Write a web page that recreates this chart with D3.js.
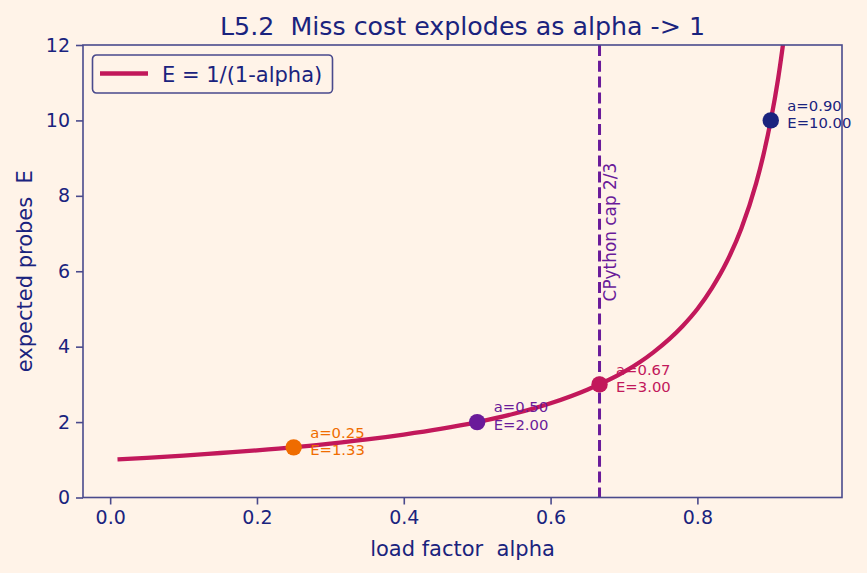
<!DOCTYPE html>
<html>
<head>
<meta charset="utf-8">
<script src="https://cdn.jsdelivr.net/npm/d3@7"></script>
<style>
  html, body { margin: 0; padding: 0; background: #fff3e8; }
  svg { display: block; font-family: "DejaVu Sans", sans-serif; }
  svg text { white-space: pre; }
</style>
</head>
<body>
<div id="chart"></div>
<script>
// curve E = 1/(1-alpha)
const alphaVals = [0.01, 0.05, 0.10, 0.15, 0.20, 0.25, 0.30, 0.35, 0.40, 0.45, 0.50, 0.55, 0.60,
                   0.65, 0.70, 0.74, 0.78, 0.80, 0.82, 0.84, 0.86, 0.88, 0.89, 0.90, 0.91, 0.92];
const expectedVals = [1.01, 1.05, 1.11, 1.18, 1.25, 1.33, 1.43, 1.54, 1.67, 1.82, 2.00, 2.22, 2.50,
                      2.86, 3.33, 3.85, 4.55, 5.00, 5.56, 6.25, 7.14, 8.33, 9.09, 10.00, 11.11, 12.50];

// marked points
const markAlpha = [0.25, 0.50, 2 / 3, 0.90];
const markE = [1.33, 2.00, 3.00, 10.00];
const markLabelA = ["a=0.25", "a=0.50", "a=0.67", "a=0.90"];
const markLabelE = ["E=1.33", "E=2.00", "E=3.00", "E=10.00"];
const markColors = ["#ef6c00", "#6a1b9a", "#c2185b", "#1a237e"];

const capAlpha = 2 / 3;
const xTicks = [0.0, 0.2, 0.4, 0.6, 0.8];
const yTicks = [0, 2, 4, 6, 8, 10, 12];

const W = 867, H = 573;
const margin = { top: 45, right: 25, bottom: 75.5, left: 83 };
const width = W - margin.left - margin.right;
const height = H - margin.top - margin.bottom;

const navy = "#1a237e";
const spine = "#4a4a8c";

const svgRoot = d3.select("#chart").append("svg")
    .attr("width", W).attr("height", H);
svgRoot.append("rect").attr("width", W).attr("height", H).attr("fill", "#fff3e8");

const svg = svgRoot.append("g")
    .attr("transform", `translate(${margin.left},${margin.top})`);

const x = d3.scaleLinear().domain([-0.037, 0.997]).range([0, width]);
const y = d3.scaleLinear().domain([0, 12]).range([height, 0]);

svg.append("defs").append("clipPath").attr("id", "plotclip")
    .append("rect").attr("width", width).attr("height", height);

// curve
const curveData = alphaVals.map((a, i) => ({ a: a, e: expectedVals[i] }));
svg.append("path")
    .datum(curveData)
    .attr("clip-path", "url(#plotclip)")
    .attr("fill", "none")
    .attr("stroke", "#c2185b")
    .attr("stroke-width", 4.3)
    .attr("stroke-linejoin", "round")
    .attr("d", d3.line().x(d => x(d.a)).y(d => y(d.e)).curve(d3.curveMonotoneX));

// CPython cap line
svg.append("line")
    .attr("x1", x(capAlpha)).attr("x2", x(capAlpha))
    .attr("y1", 0).attr("y2", height)
    .attr("stroke", "#6a1b9a")
    .attr("stroke-width", 3)
    .attr("stroke-dasharray", "11,4.8");

svg.append("text")
    .attr("transform", `translate(${x(capAlpha) + 16.5},${y(5.2)}) rotate(-90)`)
    .attr("fill", "#6a1b9a")
    .style("font-size", "16.9px")
    .text("CPython cap 2/3");

// marked points + labels
markAlpha.forEach((a, i) => {
    const px = x(a), py = y(markE[i]);
    svg.append("circle")
        .attr("cx", px).attr("cy", py).attr("r", 8.2)
        .attr("fill", markColors[i]);
    const t = svg.append("text")
        .attr("fill", markColors[i])
        .style("font-size", "14.8px");
    t.append("tspan").attr("x", px + 16.5).attr("y", py - 9.8).text(markLabelA[i]);
    t.append("tspan").attr("x", px + 16.5).attr("y", py + 8).text(markLabelE[i]);
});

// axes
const xAxis = svg.append("g")
    .attr("transform", `translate(0,${height})`)
    .call(d3.axisBottom(x).tickValues(xTicks).tickFormat(d3.format(".1f")).tickSizeOuter(0).tickSize(7).tickPadding(6));
const yAxis = svg.append("g")
    .call(d3.axisLeft(y).tickValues(yTicks).tickFormat(d3.format("d")).tickSizeOuter(0).tickSize(7).tickPadding(6));

[xAxis, yAxis].forEach(g => {
    g.select(".domain").remove();
    g.selectAll(".tick line").attr("stroke", spine).attr("stroke-width", 1.6);
    g.selectAll(".tick text").attr("fill", navy).style("font-size", "19px")
        .style("font-family", "DejaVu Sans, sans-serif");
});

// frame
svg.append("rect")
    .attr("width", width).attr("height", height)
    .attr("fill", "none").attr("stroke", spine).attr("stroke-width", 1.6);

// axis labels
svg.append("text")
    .attr("x", width / 2).attr("y", height + 58)
    .attr("text-anchor", "middle")
    .attr("fill", navy).style("font-size", "21px")
    .text("load factor  alpha");

svg.append("text")
    .attr("transform", `translate(${31.5 - margin.left},${height / 2}) rotate(-90)`)
    .attr("text-anchor", "middle")
    .attr("fill", navy).style("font-size", "21px")
    .text("expected probes  E");

// title
svg.append("text")
    .attr("x", width / 2).attr("y", 34.5 - margin.top)
    .attr("text-anchor", "middle")
    .attr("fill", navy).style("font-size", "25.3px")
    .text("L5.2  Miss cost explodes as alpha -> 1");

// legend
const legend = svg.append("g").attr("transform", "translate(9.5,10)");
legend.append("rect")
    .attr("width", 240).attr("height", 38).attr("rx", 4)
    .attr("fill", "#fff3e8").attr("stroke", spine).attr("stroke-width", 1.6);
legend.append("line")
    .attr("x1", 7.5).attr("x2", 55.5).attr("y1", 18.5).attr("y2", 18.5)
    .attr("stroke", "#c2185b").attr("stroke-width", 4.3);
legend.append("text")
    .attr("x", 69.5).attr("y", 26.5)
    .attr("fill", navy).style("font-size", "21px")
    .text("E = 1/(1-alpha)");
</script>
</body>
</html>
